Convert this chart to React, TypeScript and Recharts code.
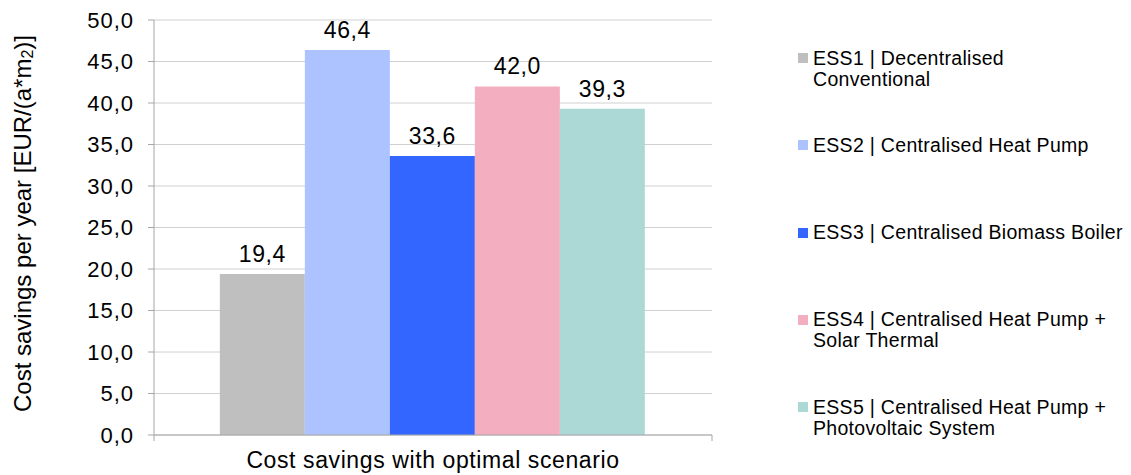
import { BarChart, Bar, XAxis, YAxis, CartesianGrid, LabelList } from 'recharts'

const categories = ['Cost savings with optimal scenario']
const seriesKeys = ['ess1', 'ess2', 'ess3', 'ess4', 'ess5']
const seriesNames = [
  'ESS1 | Decentralised\nConventional',
  'ESS2 | Centralised Heat Pump',
  'ESS3 | Centralised Biomass Boiler',
  'ESS4 | Centralised Heat Pump +\nSolar Thermal',
  'ESS5 | Centralised Heat Pump +\nPhotovoltaic System',
]
const seriesColors = ['#bfbfbf', '#adc3ff', '#3366ff', '#f3aec0', '#acd8d6']
const savingsValues = [19.4, 46.4, 33.6, 42.0, 39.3]
const yTicks = [0, 5, 10, 15, 20, 25, 30, 35, 40, 45, 50]

const data = categories.map((category) => {
  const row: Record<string, string | number> = { category }
  seriesKeys.forEach((key, i) => {
    row[key] = savingsValues[i]
  })
  return row
})

const FONT = '"Liberation Sans", Arial, sans-serif'
const AXIS = '#a6a6a6'
const GRID = '#d0d0d0'

const formatComma = (value: number) => Number(value).toFixed(1).replace('.', ',')

// Excel-like category axis: tick marks at the band edges, label centred below
const CategoryTick = (props: any) => {
  const { x, y, payload } = props
  const half = payload?.offset ?? 0
  return (
    <g>
      <line x1={x - half} x2={x - half} y1={y} y2={y + 6} stroke={AXIS} />
      <line x1={x + half} x2={x + half} y1={y} y2={y + 6} stroke={AXIS} />
      <text
        x={x}
        y={y + 33}
        textAnchor="middle"
        fontSize={23}
        letterSpacing={0.6}
        fontFamily={FONT}
        fill="#000"
      >
        {payload.value}
      </text>
    </g>
  )
}

const renderYLabel = (props: any) => {
  const { viewBox } = props
  const cx = viewBox.x + 14
  const cy = viewBox.y + viewBox.height / 2 - 4
  return (
    <text
      x={cx}
      y={cy}
      transform={`rotate(-90, ${cx}, ${cy})`}
      textAnchor="middle"
      dominantBaseline="central"
      fontSize={24}
      fontFamily={FONT}
      fill="#000"
    >
      Cost savings per year [EUR/(a*m
      <tspan fontSize={16} dy={5}>
        2
      </tspan>
      <tspan dy={-5}>)]</tspan>
    </text>
  )
}

export default function App() {
  return (
    <div style={{ position: 'relative', width: 1115, height: 467, fontFamily: FONT }}>
      <BarChart
        width={1115}
        height={467}
        data={data}
        margin={{ top: 12, right: 411, left: 0, bottom: 0 }}
        barCategoryGap="11.8%"
        barGap={0}
      >
        <CartesianGrid vertical={false} stroke={GRID} />
        <XAxis
          dataKey="category"
          height={40}
          tickSize={0}
          tickMargin={0}
          tickLine={false}
          axisLine={{ stroke: AXIS }}
          tick={<CategoryTick />}
        />
        <YAxis
          width={146}
          domain={[0, 50]}
          ticks={yTicks}
          interval={0}
          tickFormatter={formatComma}
          tickSize={6}
          tickMargin={14}
          tickLine={{ stroke: AXIS }}
          axisLine={{ stroke: AXIS }}
          tick={{ fontSize: 22, fill: '#000', fontFamily: FONT, letterSpacing: 1 }}
          label={{ content: renderYLabel }}
        />
        {seriesKeys.map((key, i) => (
          <Bar
            key={key}
            dataKey={key}
            name={seriesNames[i]}
            fill={seriesColors[i]}
            isAnimationActive={false}
          >
            <LabelList
              dataKey={key}
              position="top"
              offset={12}
              formatter={(v: any) => formatComma(v)}
              style={{ fontSize: 23, fill: '#000', fontFamily: FONT, letterSpacing: 0.6 }}
            />
          </Bar>
        ))}
      </BarChart>

      <div style={{ position: 'absolute', left: 790, top: 39.5 }}>
        {seriesKeys.map((key, i) => (
          <div
            key={key}
            style={{ height: 87.25, display: 'flex', alignItems: 'flex-start' }}
          >
            <span
              style={{
                width: 10,
                height: 10,
                marginTop: 5.5,
                marginRight: 5,
                background: seriesColors[i],
                flexShrink: 0,
              }}
            />
            <span
              style={{
                fontSize: 19.5,
                lineHeight: '21px',
                letterSpacing: 0.3,
                whiteSpace: 'pre',
                color: '#000',
              }}
            >
              {seriesNames[i]}
            </span>
          </div>
        ))}
      </div>
    </div>
  )
}
